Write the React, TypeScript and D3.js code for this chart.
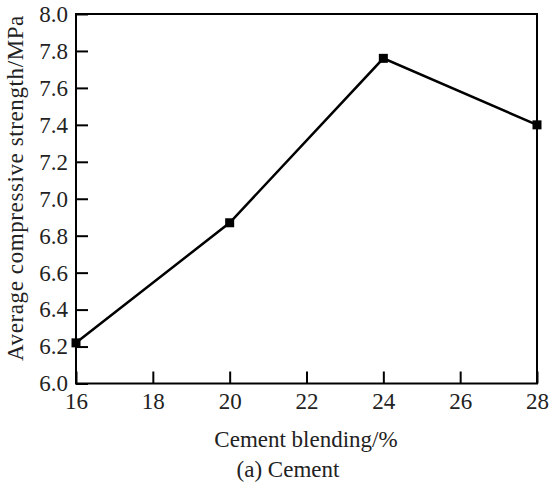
import React, { useEffect, useRef } from 'react';
import * as d3 from 'd3';

const blending = [16, 20, 24, 28];
const strength = [6.22, 6.87, 7.76, 7.4];
const xTicks = [16, 18, 20, 22, 24, 26, 28];
const yTicks = [6.0, 6.2, 6.4, 6.6, 6.8, 7.0, 7.2, 7.4, 7.6, 7.8, 8.0];

const FONT = "'Liberation Serif', 'Times New Roman', Times, serif";

const App = () => {
  const ref = useRef<SVGSVGElement>(null);

  useEffect(() => {
    const svg = d3.select(ref.current);
    svg.selectAll('*').remove();

    const left = 76, right = 537, top = 14, bottom = 383.5;

    const x = d3.scaleLinear().domain([16, 28]).range([left, right]);
    const y = d3.scaleLinear().domain([6, 8]).range([bottom, top]);

    // frame
    svg.append('rect')
      .attr('x', left).attr('y', top)
      .attr('width', right - left).attr('height', bottom - top)
      .attr('fill', 'none').attr('stroke', '#000').attr('stroke-width', 2);

    // x axis, ticks pointing inward
    const gx = svg.append('g')
      .attr('transform', `translate(0,${bottom})`)
      .call(d3.axisBottom(x).tickValues(xTicks).tickSizeInner(-12).tickSizeOuter(0).tickPadding(9).tickFormat(d3.format('d')));
    gx.attr('font-family', null);
    gx.select('.domain').remove();
    gx.selectAll('line').attr('stroke', '#000').attr('stroke-width', 2);
    gx.selectAll('text').style('font-family', FONT).style('font-size', '23px').attr('fill', '#222');

    // y axis, ticks pointing inward
    const gy = svg.append('g')
      .attr('transform', `translate(${left},0)`)
      .call(d3.axisLeft(y).tickValues(yTicks).tickSizeInner(-12).tickSizeOuter(0).tickPadding(8).tickFormat(d3.format('.1f')));
    gy.attr('font-family', null);
    gy.select('.domain').remove();
    gy.selectAll('line').attr('stroke', '#000').attr('stroke-width', 2);
    gy.selectAll('text').style('font-family', FONT).style('font-size', '23px').attr('fill', '#222');

    const pts = blending.map((b, i) => [b, strength[i]] as [number, number]);

    svg.append('path')
      .datum(pts)
      .attr('fill', 'none')
      .attr('stroke', '#000')
      .attr('stroke-width', 2.5)
      .attr('d', d3.line<[number, number]>().x(d => x(d[0])).y(d => y(d[1])));

    svg.selectAll('.marker')
      .data(pts)
      .enter().append('rect')
      .attr('class', 'marker')
      .attr('x', d => x(d[0]) - 4.5)
      .attr('y', d => y(d[1]) - 4.5)
      .attr('width', 9)
      .attr('height', 9)
      .attr('fill', '#000');

    svg.append('text')
      .attr('x', 306)
      .attr('y', 447)
      .attr('text-anchor', 'middle')
      .style('font-family', FONT).style('font-size', '23px').attr('fill', '#222')
      .text('Cement blending/%');

    svg.append('text')
      .attr('x', 288)
      .attr('y', 477)
      .attr('text-anchor', 'middle')
      .style('font-family', FONT).style('font-size', '23px').attr('fill', '#222')
      .text('(a) Cement');

    svg.append('text')
      .attr('transform', `translate(23,188) rotate(-90)`)
      .attr('text-anchor', 'middle')
      .style('font-family', FONT).style('font-size', '23px').style('letter-spacing', '0.6px').attr('fill', '#222')
      .text('Average compressive strength/MPa');
  }, []);

  return (
    <svg ref={ref} width={549} height={485} style={{ position: 'absolute', left: 0, top: 0, background: '#fff' }}></svg>
  );
};

export default App;
